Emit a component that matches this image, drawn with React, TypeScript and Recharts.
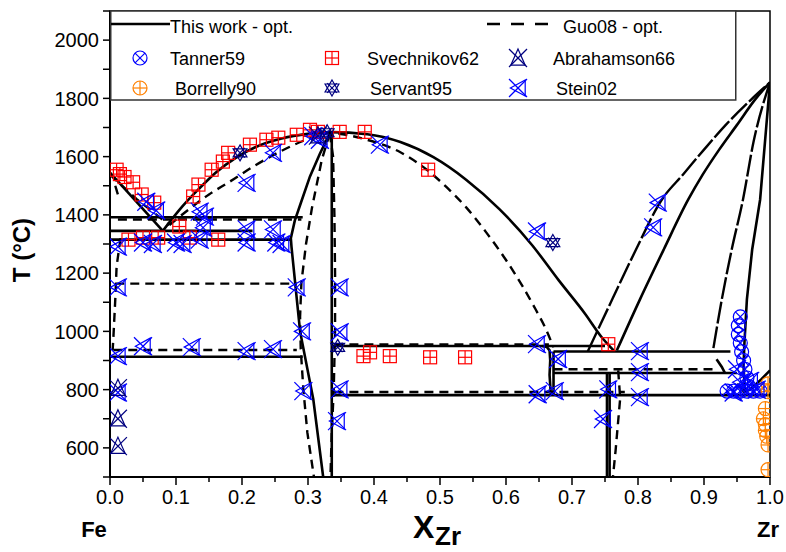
import React from 'react';
import { ComposedChart, Line, Scatter, XAxis, YAxis, ReferenceArea } from 'recharts';

type P = [number, number];

// ---- This work (solid boundaries) ----
const liqDeltaFe: P[] = [[0, 1545], [0.08, 1345]];
const liqFe2Zr: P[] = [[0.08, 1345], [0.11, 1430], [0.135, 1490], [0.16, 1545], [0.19, 1595], [0.22, 1632], [0.26, 1662], [0.3, 1678], [0.335, 1684], [0.39, 1677], [0.44, 1650], [0.49, 1598], [0.54, 1520], [0.59, 1420], [0.64, 1295], [0.68, 1175], [0.72, 1060], [0.745, 980], [0.763, 935]];
const fe2zrLeft: P[] = [[0.334, 1684], [0.318, 1610], [0.303, 1532], [0.289, 1440], [0.28, 1380], [0.274, 1320], [0.275, 1290], [0.288, 1000], [0.308, 767], [0.323, 500]];
const fe2zrRight: P[] = [[0.336, 1684], [0.336, 500]];
const h1392: P[] = [[0, 1392], [0.292, 1392]];
const h1345: P[] = [[0, 1345], [0.216, 1345]];
const h1315: P[] = [[0, 1315], [0.275, 1315]];
const h913: P[] = [[0, 913], [0.292, 913]];
const h950: P[] = [[0.336, 950], [0.75, 950]];
const h931: P[] = [[0.672, 931], [0.94, 931]];
const h857: P[] = [[0.672, 857], [0.95, 857]];
const h781: P[] = [[0.336, 781], [1, 781]];
const feZr2Left: P[] = [[0.655, 950], [0.662, 946], [0.666, 935], [0.667, 900], [0.666, 850], [0.668, 781]];
const feZr2Right: P[] = [[0.672, 931], [0.672, 781]];
const feZr3a: P[] = [[0.753, 857], [0.753, 500]];
const feZr3b: P[] = [[0.757, 857], [0.757, 500]];
const liqZr: P[] = [[0.768, 935], [0.803, 1110], [0.839, 1281], [0.876, 1452], [0.898, 1538], [0.923, 1624], [0.95, 1709], [0.977, 1795], [1, 1855]];
const solvBetaZr: P[] = [[1, 1855], [0.985, 1452], [0.973, 1281], [0.965, 1110], [0.961, 950], [0.96, 880], [0.962, 790]];
const alphaZr: P[] = [[1, 866], [0.987, 836], [0.974, 808], [0.962, 790]];
const vLeftArm: P[] = [[0.95, 820], [0.962, 790]];
const hookZr: P[] = [[0.919, 904], [0.927, 878], [0.932, 856]];

// ---- Guo08 (dashed boundaries) ----
const gLiqDeltaFe: P[] = [[0, 1538], [0.04, 1455], [0.09, 1365]];
const gLiqFe2Zr: P[] = [[0.09, 1365], [0.12, 1420], [0.15, 1470], [0.18, 1512], [0.22, 1570], [0.26, 1620], [0.3, 1660], [0.333, 1680], [0.389, 1658], [0.44, 1615], [0.48, 1555], [0.51, 1495], [0.54, 1425], [0.57, 1340], [0.6, 1245], [0.625, 1155], [0.645, 1075], [0.66, 1010], [0.672, 945]];
const gFe2ZrLeft: P[] = [[0.333, 1680], [0.321, 1590], [0.306, 1424], [0.297, 1300], [0.29, 1167], [0.288, 1050], [0.289, 939], [0.293, 800], [0.299, 653], [0.309, 500]];
const gFe2ZrRight: P[] = [[0.333, 1680], [0.338, 1600], [0.34, 1400], [0.341, 1200], [0.341, 1000], [0.339, 800], [0.336, 650], [0.334, 500]];
const gH1386: P[] = [[0.012, 1384], [0.29, 1384]];
const gH1164: P[] = [[0.008, 1164], [0.283, 1164]];
const gH936: P[] = [[0.005, 936], [0.283, 936]];
const gH955: P[] = [[0.34, 955], [0.665, 955]];
const gH870: P[] = [[0.672, 870], [0.918, 870]];
const gH792: P[] = [[0.34, 792], [0.78, 792]];
const gGammaFe: P[] = [[0.016, 1320], [0.01, 1223], [0.008, 1110], [0.005, 973], [0.004, 936]];
const gDeltaFe: P[] = [[0.008, 1500], [0.013, 1462]];
const gFeZr3: P[] = [[0.77, 866], [0.773, 770], [0.766, 590], [0.762, 500]];
const gLiqZr: P[] = [[0.724, 932], [0.761, 1110], [0.797, 1281], [0.836, 1452], [0.868, 1538], [0.9, 1624], [0.933, 1709], [0.971, 1795], [1, 1855]];
const gSolZr: P[] = [[1, 1855], [0.975, 1650], [0.959, 1452], [0.942, 1281], [0.927, 1110], [0.914, 939]];

// ---- experimental points ----
const tanner59: P[] = [[0.955, 1050], [0.952, 1020], [0.952, 990], [0.955, 960], [0.957, 930], [0.96, 900], [0.962, 870], [0.965, 840], [0.968, 810], [0.935, 795], [0.945, 795], [0.955, 795], [0.965, 795], [0.975, 795], [0.985, 795]];
const svechnikov62: P[] = [[0.01, 1555], [0.015, 1540], [0.022, 1530], [0.035, 1512], [0.048, 1470], [0.067, 1442], [0.105, 1360], [0.126, 1463], [0.134, 1504], [0.154, 1555], [0.171, 1583], [0.179, 1613], [0.212, 1641], [0.237, 1658], [0.255, 1665], [0.283, 1675], [0.303, 1692], [0.315, 1685], [0.348, 1685], [0.386, 1685], [0.482, 1555], [0.028, 1315], [0.05, 1322], [0.073, 1322], [0.121, 1322], [0.164, 1315], [0.384, 915], [0.394, 928], [0.424, 915], [0.485, 911], [0.538, 911], [0.755, 956]];
const abrahamson66: P[] = [[0.012, 805], [0.012, 700], [0.012, 606], [0.315, 1672]];
const borrelly90: P[] = [[0.997, 820], [0.997, 793], [0.993, 735], [0.99, 700], [0.993, 680], [0.993, 660], [0.995, 640], [0.997, 610], [0.997, 525]];
const servant95: P[] = [[0.197, 1613], [0.329, 1682], [0.671, 1305], [0.345, 945]];
const stein02: P[] = [[0.055, 1445], [0.07, 1415], [0.136, 1411], [0.144, 1394], [0.207, 1510], [0.247, 1613], [0.308, 1670], [0.318, 1658], [0.409, 1641],
  [0.012, 1291], [0.05, 1305], [0.065, 1300], [0.1, 1305], [0.11, 1300], [0.136, 1315], [0.207, 1305], [0.252, 1305], [0.26, 1300], [0.141, 1356], [0.207, 1350], [0.247, 1350],
  [0.012, 1151], [0.283, 1151], [0.291, 1000], [0.05, 949], [0.124, 946], [0.207, 932], [0.247, 939], [0.012, 915], [0.012, 790], [0.293, 795],
  [0.348, 1151], [0.348, 997], [0.348, 801], [0.344, 692], [0.647, 1343], [0.647, 956], [0.679, 905], [0.648, 784], [0.674, 795],
  [0.755, 801], [0.747, 699], [0.83, 1442], [0.823, 1357], [0.803, 932], [0.803, 860], [0.803, 774],
  [0.95, 870], [0.955, 825], [0.97, 830], [0.98, 800], [0.945, 790]];

const yTicks = [500, 600, 700, 800, 900, 1000, 1100, 1200, 1300, 1400, 1500, 1600, 1700, 1800, 1900, 2000, 2100];
const yLabels = [600, 800, 1000, 1200, 1400, 1600, 1800, 2000];
const xTicks = [0, 0.05, 0.1, 0.15, 0.2, 0.25, 0.3, 0.35, 0.4, 0.45, 0.5, 0.55, 0.6, 0.65, 0.7, 0.75, 0.8, 0.85, 0.9, 0.95, 1];

const toPts = (a: P[]) => a.map(([x, T]) => ({ x, T }));

const solidLinear = [liqDeltaFe, fe2zrLeft, fe2zrRight, h1392, h1345, h1315, h913, h950, h931, h857, h781, feZr2Left, feZr2Right, feZr3a, feZr3b, solvBetaZr, alphaZr, vLeftArm, hookZr];
const solidSmooth = [liqFe2Zr, liqZr];
const dashedLinear = [gLiqDeltaFe, gFe2ZrLeft, gFe2ZrRight, gH1386, gH1164, gH936, gH955, gH870, gH792, gGammaFe, gDeltaFe, gFeZr3];
const dashedSmooth = [gLiqFe2Zr];
const longDash = [gLiqZr, gSolZr];

const FONT = '"Liberation Sans", Arial, sans-serif';
const BLUE = '#0000ff';
const NAVY = '#000080';

const Tanner = ({ cx, cy }: any) => {
  const r = 7, d = r * 0.707;
  return (
    <g stroke={BLUE} strokeWidth={1.2} fill="none">
      <circle cx={cx} cy={cy} r={r} />
      <line x1={cx - d} y1={cy - d} x2={cx + d} y2={cy + d} />
      <line x1={cx - d} y1={cy + d} x2={cx + d} y2={cy - d} />
    </g>
  );
};
const Svech = ({ cx, cy }: any) => {
  const s = 6.5;
  return (
    <g stroke="#ff0000" strokeWidth={1.2} fill="none">
      <rect x={cx - s} y={cy - s} width={2 * s} height={2 * s} />
      <line x1={cx - s} y1={cy} x2={cx + s} y2={cy} />
      <line x1={cx} y1={cy - s} x2={cx} y2={cy + s} />
    </g>
  );
};
const Borrelly = ({ cx, cy }: any) => {
  const r = 7;
  return (
    <g stroke="#ff8000" strokeWidth={1.2} fill="none">
      <circle cx={cx} cy={cy} r={r} />
      <line x1={cx - r} y1={cy} x2={cx + r} y2={cy} />
      <line x1={cx} y1={cy - r} x2={cx} y2={cy + r} />
    </g>
  );
};
const Abraham = ({ cx, cy }: any) => {
  const s = 9;
  return (
    <g stroke={NAVY} strokeWidth={1.2} fill="none">
      <line x1={cx - s} y1={cy - s} x2={cx + s} y2={cy + s} />
      <line x1={cx - s} y1={cy + s} x2={cx + s} y2={cy - s} />
      <polygon points={`${cx},${cy - s} ${cx - 0.8 * s},${cy + 0.8 * s} ${cx + 0.8 * s},${cy + 0.8 * s}`} />
    </g>
  );
};
const Stein = ({ cx, cy }: any) => {
  const s = 9;
  return (
    <g stroke={BLUE} strokeWidth={1.2} fill="none">
      <line x1={cx - s} y1={cy - s} x2={cx + s} y2={cy + s} />
      <line x1={cx - s} y1={cy + s} x2={cx + s} y2={cy - s} />
      <polygon points={`${cx - 0.85 * s},${cy} ${cx + 0.8 * s},${cy - 0.9 * s} ${cx + 0.8 * s},${cy + 0.9 * s}`} />
    </g>
  );
};
const Servant = ({ cx, cy }: any) => {
  const s = 8;
  const up = `${cx},${cy - s} ${cx + 0.866 * s},${cy + 0.5 * s} ${cx - 0.866 * s},${cy + 0.5 * s}`;
  const dn = `${cx},${cy + s} ${cx + 0.866 * s},${cy - 0.5 * s} ${cx - 0.866 * s},${cy - 0.5 * s}`;
  return (
    <g stroke={NAVY} strokeWidth={1.2} fill="none">
      <polygon points={up} />
      <polygon points={dn} />
      <line x1={cx - 0.6 * s} y1={cy - 0.6 * s} x2={cx + 0.6 * s} y2={cy + 0.6 * s} />
      <line x1={cx - 0.6 * s} y1={cy + 0.6 * s} x2={cx + 0.6 * s} y2={cy - 0.6 * s} />
    </g>
  );
};

const YTick = (props: any) => {
  const { x, y, payload } = props;
  const v = payload.value;
  return (
    <g>
      <line x1={x} x2={x - 7} y1={y} y2={y} stroke="#000" strokeWidth={1.5} />
      {yLabels.includes(v) && (
        <text x={x - 11} y={y} dy="0.36em" textAnchor="end" fontSize={20} fontFamily={FONT} fill="#000">{v}</text>
      )}
    </g>
  );
};
const XTick = (props: any) => {
  const { x, y, payload } = props;
  const v = payload.value;
  const major = Math.round(v * 100) % 10 === 0;
  return (
    <g>
      <line x1={x} x2={x} y1={y} y2={y + (major ? 8 : 5)} stroke="#000" strokeWidth={1.5} />
      {major && (
        <text x={x} y={y + 27} textAnchor="middle" fontSize={20} fontFamily={FONT} fill="#000">{v.toFixed(1)}</text>
      )}
    </g>
  );
};

export default function App() {
  return (
    <div style={{ position: 'absolute', left: 0, top: 0, width: 786, height: 552, background: '#fff' }}>
      <ComposedChart width={786} height={552} margin={{ top: 11, right: 16, bottom: 45, left: 50 }}>
        <XAxis type="number" dataKey="x" domain={[0, 1]} ticks={xTicks} interval={0} tickSize={0} tickMargin={0}
          tickLine={false} tick={XTick} height={30} allowDataOverflow axisLine={{ stroke: '#000', strokeWidth: 2 }} />
        <YAxis type="number" dataKey="T" domain={[500, 2100]} ticks={yTicks} interval={0} tickSize={0} tickMargin={0}
          tickLine={false} tick={YTick} width={60} allowDataOverflow axisLine={{ stroke: '#000', strokeWidth: 2 }} />
        {solidLinear.map((d, i) => (
          <Line key={'s' + i} data={toPts(d)} dataKey="T" type="linear" stroke="#000" strokeWidth={2.6} dot={false} isAnimationActive={false} />
        ))}
        {solidSmooth.map((d, i) => (
          <Line key={'ss' + i} data={toPts(d)} dataKey="T" type="monotone" stroke="#000" strokeWidth={2.6} dot={false} isAnimationActive={false} />
        ))}
        {dashedLinear.map((d, i) => (
          <Line key={'d' + i} data={toPts(d)} dataKey="T" type="linear" stroke="#000" strokeWidth={2.4} strokeDasharray="9 6" dot={false} isAnimationActive={false} />
        ))}
        {dashedSmooth.map((d, i) => (
          <Line key={'ds' + i} data={toPts(d)} dataKey="T" type="monotone" stroke="#000" strokeWidth={2.4} strokeDasharray="9 6" dot={false} isAnimationActive={false} />
        ))}
        {longDash.map((d, i) => (
          <Line key={'l' + i} data={toPts(d)} dataKey="T" type="monotone" stroke="#000" strokeWidth={2.4} strokeDasharray="22 3" dot={false} isAnimationActive={false} />
        ))}
        <Scatter data={toPts(svechnikov62)} dataKey="T" shape={Svech} isAnimationActive={false} />
        <Scatter data={toPts(tanner59)} dataKey="T" shape={Tanner} isAnimationActive={false} />
        <Scatter data={toPts(borrelly90)} dataKey="T" shape={Borrelly} isAnimationActive={false} />
        <Scatter data={toPts(stein02)} dataKey="T" shape={Stein} isAnimationActive={false} />
        <Scatter data={toPts(abrahamson66)} dataKey="T" shape={Abraham} isAnimationActive={false} />
        <Scatter data={toPts(servant95)} dataKey="T" shape={Servant} isAnimationActive={false} />
        <ReferenceArea x1={0} x2={1} y1={500} y2={2100} fill="none" stroke="#000" strokeWidth={1.5} />
      </ComposedChart>
      <svg width={786} height={552} style={{ position: 'absolute', left: 0, top: 0, pointerEvents: 'none' }} fontFamily={FONT}>
        <rect x={110.75} y={11} width={625} height={89} fill="#fff" stroke="#333" strokeWidth={1.5} />
        <line x1={111} x2={170} y1={24} y2={24} stroke="#000" strokeWidth={2.6} />
        <text x={170} y={33} fontSize={18}>This work - opt.</text>
        <line x1={487} x2={548} y1={24} y2={24} stroke="#000" strokeWidth={2.4} strokeDasharray="13 11" />
        <text x={563} y={33} fontSize={18}>Guo08 - opt.</text>
        <Tanner cx={140} cy={58} />
        <text x={170} y={65} fontSize={18}>Tanner59</text>
        <Svech cx={332} cy={58} />
        <text x={367} y={65} fontSize={18}>Svechnikov62</text>
        <Abraham cx={518} cy={58} />
        <text x={553} y={65} fontSize={18}>Abrahamson66</text>
        <Borrelly cx={140} cy={88} />
        <text x={175} y={95} fontSize={18}>Borrelly90</text>
        <Servant cx={332} cy={88} />
        <text x={370} y={95} fontSize={18}>Servant95</text>
        <Stein cx={518} cy={88} />
        <text x={556} y={95} fontSize={18}>Stein02</text>
        <text x={22} y={250} fontSize={24} fontWeight="bold" textAnchor="middle" dy="0.35em" transform="rotate(-90 22 250)">T (°C)</text>
        <text x={413} y={538} fontSize={32} fontWeight="bold">X</text>
        <text x={435} y={545} fontSize={26} fontWeight="bold">Zr</text>
        <text x={94} y={537} fontSize={22} fontWeight="bold" textAnchor="middle">Fe</text>
        <text x={768} y={537} fontSize={22} fontWeight="bold" textAnchor="middle">Zr</text>
      </svg>
    </div>
  );
}
